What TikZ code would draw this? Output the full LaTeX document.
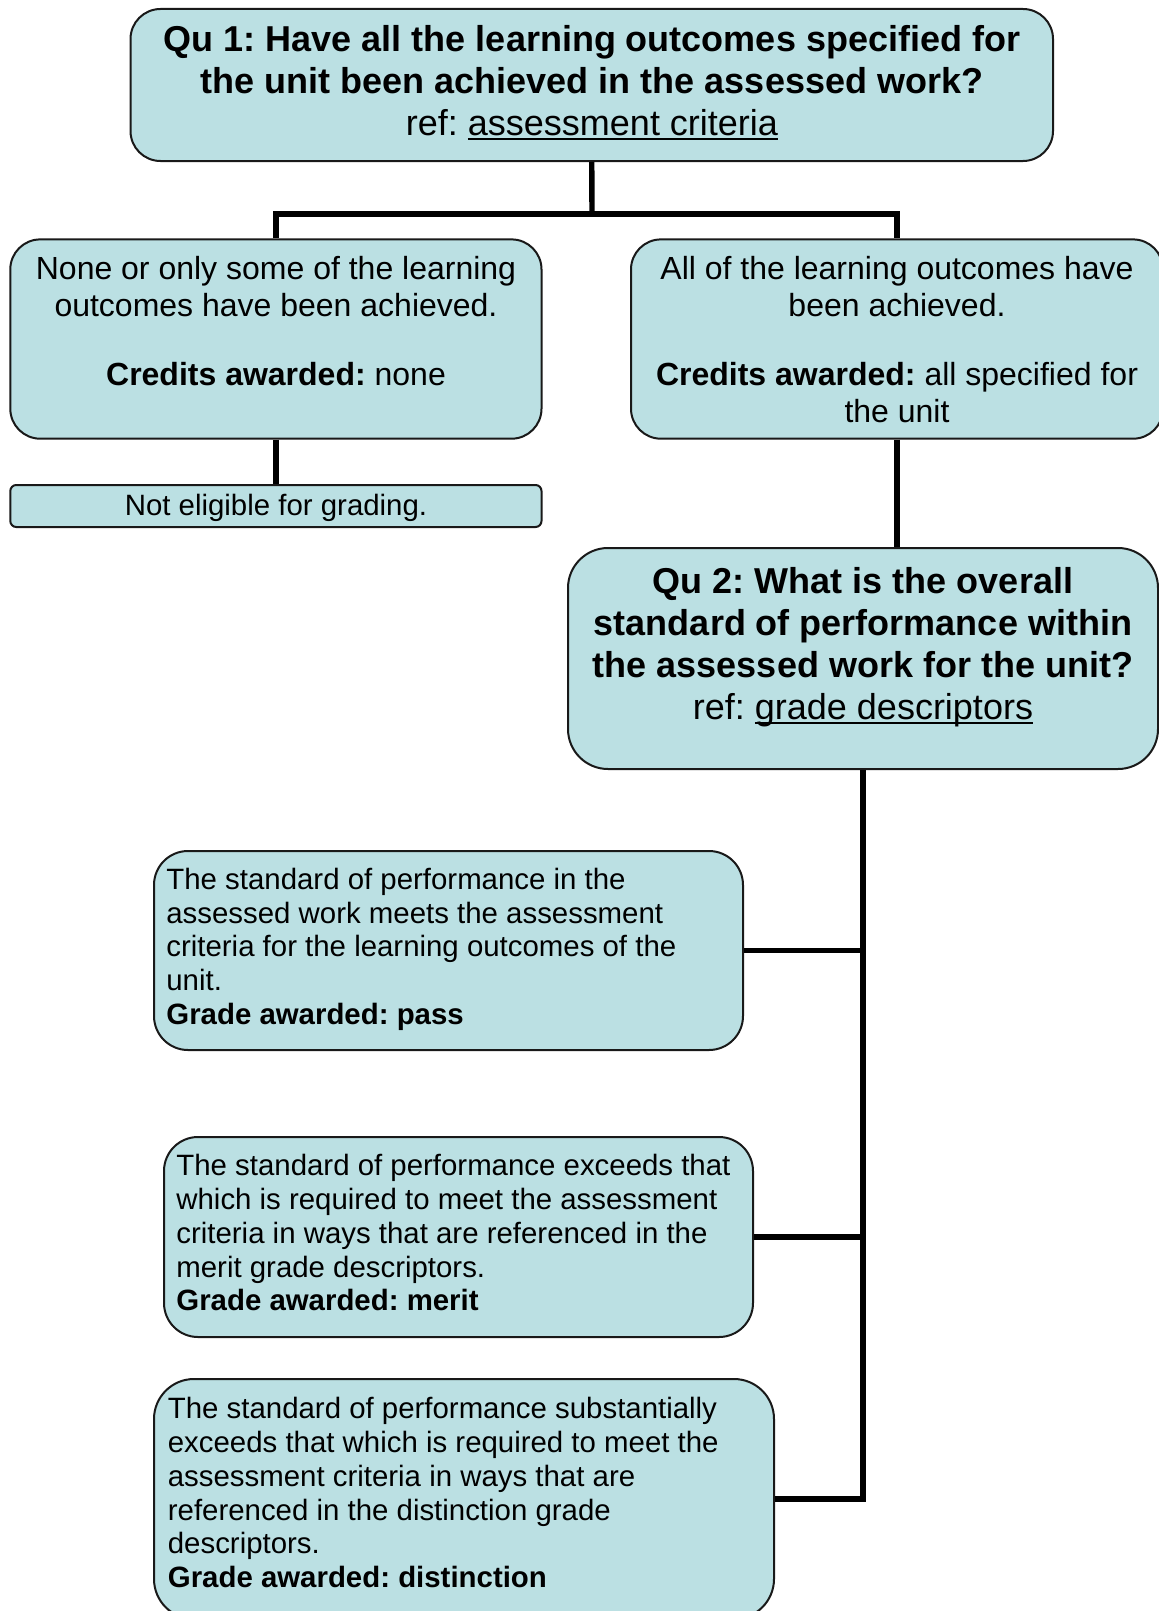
\documentclass[tikz,border=0pt]{standalone}
\usepackage{fontspec}
\setmainfont{Liberation Sans}
\usetikzlibrary{fit}
\frenchspacing
\definecolor{boxfill}{RGB}{187,224,227}
\definecolor{boxline}{RGB}{25,25,25}
\newcommand{\fh}{\fontsize{18}{21}\selectfont}
\newcommand{\fb}{\fontsize{16}{18.5}\selectfont}
\newcommand{\fsm}{\fontsize{14.7}{16.9}\selectfont}
\newcommand{\myul}[1]{\setbox0=\hbox{#1}\rlap{\rule[-2.4pt]{\wd0}{0.9pt}}\box0}
\tikzset{
  box/.style={draw=boxline, line width=1pt, fill=boxfill, inner sep=0pt, rounded corners=15pt},
  ctext/.style={inner sep=0pt, align=center, anchor=north},
  ltext/.style={inner sep=0pt, align=left, anchor=north west, font=\fsm},
  conn/.style={draw=black, line width=2.7pt}
}
\begin{document}
\begin{tikzpicture}[x=0.5pt,y=-0.5pt]
\useasboundingbox (0,0) rectangle (1159,1611);
\fill[white] (0,0) rectangle (1159,1611);

% boxes
\node[box, fit={(130.5,9) (1053,161)}] (q1) {};
\node[box, fit={(10.3,239.4) (541.5,438.7)}] (none) {};
\node[box, fit={(631,239.4) (1163,438.7)}] (all) {};
\node[box, rounded corners=3pt, fit={(10.3,485) (541.5,527)}] (noel) {};
\node[box, rounded corners=20pt, fit={(568,548) (1158,769)}] (q2) {};
\node[box, rounded corners=17pt, fit={(154,851) (743,1050)}] (pass) {};
\node[box, rounded corners=17pt, fit={(164,1137) (753,1337)}] (merit) {};
\node[box, rounded corners=20pt, fit={(154,1379) (774,1619)}] (dist) {};

% texts
\node[ctext, font=\fh] (q1t) at (592,25) {\textbf{Qu 1: Have all the learning outcomes specified for}\\
  \textbf{the unit been achieved in the assessed work?}\\
  ref: \myul{assessment criteria}};
\node[ctext, font=\fb] (nonet) at (276,256) {None or only some of the learning\\
  outcomes have been achieved.\\[16pt]
  \textbf{Credits awarded:} none};
\node[ctext, font=\fb] (allt) at (897,256) {All of the learning outcomes have\\
  been achieved.\\[16pt]
  \textbf{Credits awarded:} all specified for\\
  the unit};
\node[ctext, font=\fsm] (noelt) at (276,494) {Not eligible for grading.};
\node[ctext, font=\fh] (q2t) at (863,567) {\textbf{Qu 2: What is the overall}\\
  \textbf{standard of performance within}\\
  \textbf{the assessed work for the unit?}\\
  ref: \myul{grade descriptors}};
\node[ltext] (passt) at (166,867.5) {The standard of performance in the\\
  assessed work meets the assessment\\
  criteria for the learning outcomes of the\\
  unit.\\
  \textbf{Grade awarded: pass}};
\node[ltext] (meritt) at (176,1154) {The standard of performance exceeds that\\
  which is required to meet the assessment\\
  criteria in ways that are referenced in the\\
  merit grade descriptors.\\
  \textbf{Grade awarded: merit}};
\node[ltext] (distt) at (167.5,1397) {The standard of performance substantially\\
  exceeds that which is required to meet the\\
  assessment criteria in ways that are\\
  referenced in the distinction grade\\
  descriptors.\\
  \textbf{Grade awarded: distinction}};

% connectors
\coordinate (j1) at (592,214);
\draw[conn] (q1.south) -- (j1);
\draw[conn] (none.north) |- (j1) -| (all.north);
\draw[conn] (none.south) -- (noel.north);
\draw[conn] (all.south) -- (all.south |- q2.north);
\draw[conn] (q2.south) |- (dist.east);
\draw[conn] (pass.east) -- (pass.east -| q2.south);
\draw[conn] (merit.east) -- (merit.east -| q2.south);
\end{tikzpicture}
\end{document}
